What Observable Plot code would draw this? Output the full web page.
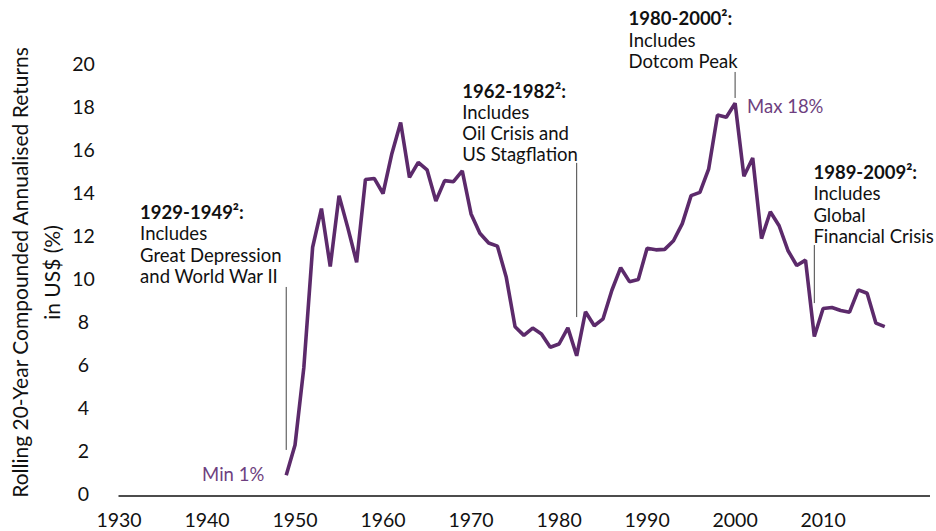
<!DOCTYPE html>
<html>
<head>
<meta charset="utf-8">
<script src="https://cdn.jsdelivr.net/npm/d3@7"></script>
<script src="https://cdn.jsdelivr.net/npm/@observablehq/plot@0.6"></script>
<style>
  html, body { margin: 0; padding: 0; background: #ffffff; }
  #chart svg { display: block; }
</style>
</head>
<body>
<div id="chart"></div>
<script>
const years = d3.range(1949, 2018);
const returns = [
  0.9, 2.3, 5.9, 11.5, 13.3, 10.6, 13.9, 12.4, 10.8, 14.65,
  14.7, 14.0, 15.85, 17.3, 14.75, 15.45, 15.1, 13.65, 14.6, 14.55,
  15.05, 13.05, 12.15, 11.7, 11.55, 10.1, 7.8, 7.4, 7.74, 7.47,
  6.85, 7.0, 7.75, 6.45, 8.5, 7.85, 8.17, 9.5, 10.55, 9.9,
  10.0, 11.45, 11.38, 11.4, 11.8, 12.6, 13.9, 14.05, 15.15, 17.65,
  17.55, 18.2, 14.8, 15.65, 11.9, 13.15, 12.5, 11.35, 10.65, 10.9,
  7.35, 8.65, 8.7, 8.56, 8.48, 9.52, 9.36, 7.97, 7.81
];
const xTicks = [1930, 1940, 1950, 1960, 1970, 1980, 1990, 2000, 2010];
const yTicks = [0, 2, 4, 6, 8, 10, 12, 14, 16, 18, 20];

// annotation blocks
const noteYear  = [1932.4, 1969.0, 1987.9, 2008.9];
const noteTopY  = [13.08, 18.74, 22.09, 14.94];
const noteHead  = ["1929-1949²:", "1962-1982²:", "1980-2000²:", "1989-2009²:"];
const noteBody  = [
  ["Includes", "Great Depression", "and World War II"],
  ["Includes", "Oil Crisis and", "US Stagflation"],
  ["Includes", "Dotcom Peak"],
  ["Includes", "Global", "Financial Crisis"]
];
// leader lines
const leaderYear = [1949, 1982, 2000, 2009];
const leaderFrom = [9.63, 15.4, 19.63, 11.58];
const leaderTo   = [2.05, 8.23, 18.42, 8.88];

const extremes = [
  {year: 1949, value: 0.9, label: "Min 1%"},
  {year: 2000, value: 18.2, label: "Max 18%"}
];

const series = years.map((y, i) => ({year: y, value: returns[i]}));
const lineStep = 0.99;
const headRows = noteHead.map((t, i) => ({year: noteYear[i], value: noteTopY[i], text: t}));
const bodyRows = noteBody.flatMap((lines, i) =>
  lines.map((t, j) => ({year: noteYear[i], value: noteTopY[i] - (j + 1) * lineStep, text: t})));
const leaders = leaderYear.map((y, i) => ({year: y, y1: leaderFrom[i], y2: leaderTo[i]}));

const FONT = "Lato, 'Open Sans', sans-serif";
const lineColor = "#5c2a6b";
const labelPurple = "#6e3f80";

const chart = Plot.plot({
  width: 936,
  height: 531,
  marginLeft: 118.5,
  marginRight: 6,
  marginTop: 64,
  marginBottom: 37,
  style: {fontFamily: FONT, background: "#ffffff", color: "#111"},
  x: {domain: [1930, 2022.2]},
  y: {domain: [0, 20]},
  marks: [
    Plot.axisX({ticks: xTicks, tickFormat: d => String(d), tickSize: 0, tickPadding: 18.5, fontSize: 19.5, label: null, fill: "#111"}),
    Plot.axisY({ticks: yTicks, tickSize: 0, tickPadding: 35.5, textAnchor: "middle", fontSize: 19.5, label: null, fill: "#111"}),
    Plot.ruleY([0], {stroke: "#111", strokeWidth: 1.5, dy: 1.5}),
    Plot.text(["Rolling 20-Year Compounded Annualised Returns\nin US$ (%)"], {
      frameAnchor: "left", rotate: -90, dx: -85, dy: -7, fontSize: 21, lineHeight: 1.5,
      textAnchor: "middle", lineAnchor: "middle", fill: "#111"
    }),
    Plot.ruleX(leaders, {x: "year", y1: "y1", y2: "y2", stroke: "#444", strokeWidth: 1}),
    Plot.line(series, {x: "year", y: "value", stroke: lineColor, strokeWidth: 3.6, strokeLinejoin: "miter", strokeLinecap: "butt"}),
    Plot.text(headRows, {x: "year", y: "value", text: "text", textAnchor: "start", lineAnchor: "middle", fontSize: 18.5, fontWeight: "bold", fill: "#111"}),
    Plot.text(bodyRows, {x: "year", y: "value", text: "text", textAnchor: "start", lineAnchor: "middle", fontSize: 18.5, fill: "#111"}),
    Plot.text(extremes.slice(0, 1), {x: "year", y: "value", text: "label", textAnchor: "end", lineAnchor: "middle", dx: -22, fontSize: 18.5, fill: labelPurple}),
    Plot.text(extremes.slice(1), {x: "year", y: "value", text: "label", textAnchor: "start", lineAnchor: "middle", dx: 12, dy: 4, fontSize: 18.5, fill: labelPurple})
  ]
});
document.getElementById("chart").appendChild(chart);
</script>
</body>
</html>
